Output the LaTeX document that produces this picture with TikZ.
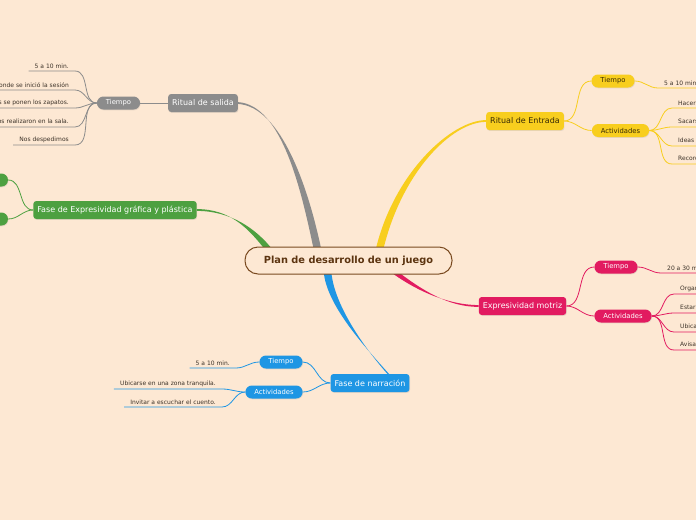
\documentclass[tikz,border=0pt]{standalone}
\usepackage{fontspec}
\setmainfont{DejaVu Sans}
\usetikzlibrary{calc,shadows,backgrounds}

\definecolor{paper}{RGB}{253,232,211}
\definecolor{gris}{RGB}{140,140,140}
\definecolor{verde}{RGB}{77,160,64}
\definecolor{amarillo}{RGB}{248,206,30}
\definecolor{rosa}{RGB}{226,27,96}
\definecolor{azul}{RGB}{30,150,228}
\definecolor{cafe}{RGB}{122,74,32}
\definecolor{cafeosc}{RGB}{92,52,16}
\definecolor{tinta}{RGB}{60,50,40}
\definecolor{oscuro}{RGB}{55,42,5}

% tapered main branch: colour / topic end / control near topic / control near root / root end / half width
\newcommand{\ramo}[6]{%
  \fill[#1] ($(#2)+(0,-0.9)$) .. controls ($(#3)+(0,-0.9)$) and ($(#4)+(-#6,0)$) .. ($(#5)+(-#6,0)$)
    -- ($(#5)+(#6,0)$) .. controls ($(#4)+(#6,0)$) and ($(#3)+(0,0.9)$) .. ($(#2)+(0,0.9)$) -- cycle;}

\tikzset{
  root/.style={draw=cafe, line width=1pt, fill=paper, rounded corners=13pt,
    minimum width=207pt, minimum height=27pt, text=cafeosc,
    font=\fontsize{9.8}{11}\selectfont\bfseries},
  topic/.style={fill=#1, rounded corners=3pt, minimum height=18pt, inner xsep=4pt,
    inner ysep=0pt, text=white, font=\fontsize{8}{9}\selectfont,
    drop shadow={opacity=0.18, shadow xshift=0.6pt, shadow yshift=-0.9pt}},
  pill/.style={fill=#1, rounded corners=6.5pt, minimum height=13pt, inner xsep=9pt,
    inner ysep=0pt, text=white, font=\fontsize{6.8}{8}\selectfont,
    drop shadow={opacity=0.18, shadow xshift=0.5pt, shadow yshift=-0.8pt}},
  leaf/.style={inner xsep=6pt, inner ysep=2pt, text=tinta, font=\fontsize{6}{7}\selectfont},
  twig/.style={draw=#1, line width=0.8pt},
}

\begin{document}
\begin{tikzpicture}[x=1pt, y=-1pt]
  \useasboundingbox (0,0) rectangle (696,520);
  \clip (0,0) rectangle (696,520);
  % ------------------------------------------------------------------ centre and topics
  \node[root] (root) at (348.5,260.5) {Plan de desarrollo de un juego};
  \node[topic=gris] (salida) at (203,103) {Ritual de salida};
  \node[topic=verde] (fase) at (115,210) {Fase de Expresividad gráfica y plástica};
  \node[topic=amarillo, text=oscuro] (entrada) at (525,121) {Ritual de Entrada};
  \node[topic=rosa] (motriz) at (522.5,306) {Expresividad motriz};
  \node[topic=azul] (narr) at (370,383) {Fase de narración};
  \coordinate (r-gris) at ($(root.north)+(-31,3)$);
  \coordinate (r-verde) at ($(root.north)+(-79,4)$);
  \coordinate (r-amarillo) at ($(root.north)+(31,3)$);
  \coordinate (r-rosa) at ($(root.south)+(44,-4)$);
  \coordinate (r-azul) at ($(root.south)+(-21,-3)$);
  \coordinate (n-azul) at ($(narr.north)+(19,1)$);
  \begin{scope}[on background layer]
    \fill[paper] (0,0) rectangle (696,520);
    \ramo{gris}{salida.east}{282,106}{305,190}{r-gris}{3.8}
    \ramo{verde}{fase.east}{230,210}{252,228}{r-verde}{3.8}
    \ramo{amarillo}{entrada.west}{452,121}{398,172}{r-amarillo}{3.8}
    \ramo{rosa}{motriz.west}{448,306}{418,290}{r-rosa}{3.8}
    \ramo{azul}{n-azul}{365,348}{330,305}{r-azul}{3.8}
  \end{scope}
  % ------------------------------------------------------------------ Ritual de salida
  \node[pill=gris] (gt) at (118.5,103) {Tiempo};
  \draw[twig=gris] (gt.east) -- (salida.west);
  \foreach \y/\txt in {71/5 a 10 min., 90/Recordamos donde se inició la sesión,
      108/Los niños se ponen los zapatos., 127/Comentamos lo que los niños realizaron en la sala.,
      145/Nos despedimos} {
    \node[leaf, anchor=south east] (gl-\y) at (75,\y) {\txt};
    \draw[twig=gris] (gl-\y.south west) -- (gl-\y.south east) to[out=0, in=180] (gt.west);
  }
  % ------------------------------------------------------------------ Fase de Expresividad
  \node[pill=verde, minimum width=40pt] (v1) at (-12,180) {};
  \node[pill=verde, minimum width=40pt] (v2) at (-12,219) {};
  \draw[twig=verde] (v1.east) to[out=0, in=180] (fase.west);
  \draw[twig=verde] (v2.east) to[out=0, in=180] (fase.west);
  % ------------------------------------------------------------------ Ritual de Entrada
  \node[pill=amarillo, text=oscuro] (et) at (613,81) {Tiempo};
  \node[pill=amarillo, text=oscuro] (ea) at (620.5,130.5) {Actividades};
  \draw[twig=amarillo] (entrada.east) to[out=0, in=180] (et.west);
  \draw[twig=amarillo] (entrada.east) to[out=0, in=180] (ea.west);
  \node[leaf, anchor=south west] (el-t) at (658,88) {5 a 10 min.};
  \draw[twig=amarillo] (et.east) to[out=0, in=180] (el-t.south west) -- (el-t.south east);
  \foreach \y/\txt in {108/Hacer una ronda., 127/Sacarse los zapatos., 146/Ideas previas del juego.,
      164/Recordar las reglas.} {
    \node[leaf, anchor=south west] (el-\y) at (672,\y) {\txt};
    \draw[twig=amarillo] (ea.east) to[out=0, in=180] (el-\y.south west) -- (el-\y.south east);
  }
  % ------------------------------------------------------------------ Expresividad motriz
  \node[pill=rosa] (pt) at (616,267) {Tiempo};
  \node[pill=rosa] (pa) at (623,316) {Actividades};
  \draw[twig=rosa] (motriz.east) to[out=0, in=180] (pt.west);
  \draw[twig=rosa] (motriz.east) to[out=0, in=180] (pa.west);
  \node[leaf, anchor=south west] (pl-t) at (661,273) {20 a 30 min.};
  \draw[twig=rosa] (pt.east) to[out=0, in=180] (pl-t.south west) -- (pl-t.south east);
  \foreach \y/\txt in {294/Organizar el espacio., 313/Estar atentos a la consigna.,
      332/Ubicarse en el espacio., 350/Avisar el final del juego.} {
    \node[leaf, anchor=south west] (pl-\y) at (674,\y) {\txt};
    \draw[twig=rosa] (pa.east) to[out=0, in=180] (pl-\y.south west) -- (pl-\y.south east);
  }
  % ------------------------------------------------------------------ Fase de narracion
  \node[pill=azul] (bt) at (281,362) {Tiempo};
  \node[pill=azul] (ba) at (274,392) {Actividades};
  \draw[twig=azul] (narr.west) to[out=180, in=0] (bt.east);
  \draw[twig=azul] (narr.west) to[out=180, in=0] (ba.east);
  \node[leaf, anchor=south east] (bl-t) at (236,368) {5 a 10 min.};
  \draw[twig=azul] (bl-t.south west) -- (bl-t.south east) to[out=0, in=180] (bt.west);
  \foreach \y/\txt in {389/Ubicarse en una zona tranquila., 407/Invitar a escuchar el cuento.} {
    \node[leaf, anchor=south east] (bl-\y) at (222,\y) {\txt};
    \draw[twig=azul] (bl-\y.south west) -- (bl-\y.south east) to[out=0, in=180] (ba.west);
  }
\end{tikzpicture}
\end{document}
